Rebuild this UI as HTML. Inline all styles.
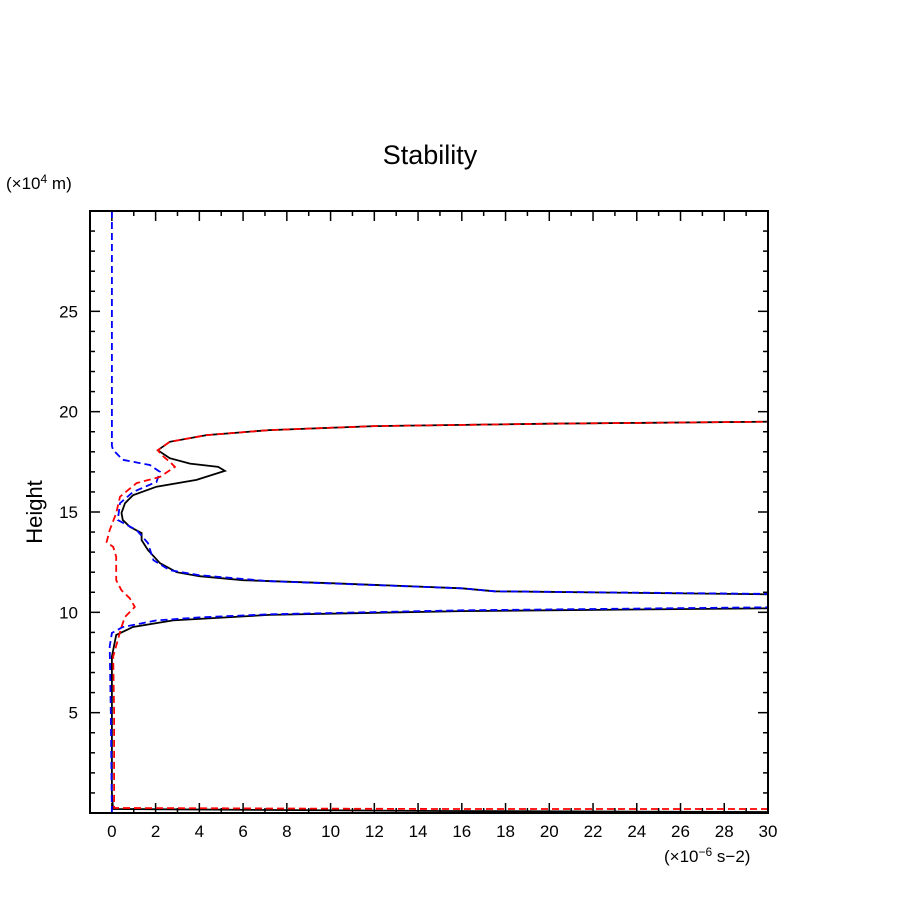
<!DOCTYPE html>
<html><head><meta charset="utf-8"><style>
body{margin:0;background:#fff;}
svg{display:block;font-family:"Liberation Sans",sans-serif;}
</style></head><body>
<svg id="chart" width="904" height="904">
<rect width="904" height="904" fill="#fff"/>
<text x="430" y="164" font-size="27" text-anchor="middle">Stability</text>
<text x="6" y="189" font-size="17">(×10<tspan dy="-6" font-size="12">4</tspan><tspan dy="6"> m)</tspan></text>
<text x="42" y="512" font-size="22" text-anchor="middle" transform="rotate(-90 42 512)">Height</text>
<text x="664" y="862" font-size="17">(×10<tspan dy="-6" font-size="12">−6</tspan><tspan dy="6"> s−2)</tspan></text>
<g id="ticks"></g>
<g id="series"></g>
<rect x="90" y="211" width="678" height="602" fill="none" stroke="#000" stroke-width="2"/>
</svg>
<script>
const xTicks=[0,2,4,6,8,10,12,14,16,18,20,22,24,26,28,30];
const yTicks=[5,10,15,20,25];
const blackX=[30,15,0.05,0,0,0.2,0.96,2.8,7.2,16,30];
const blackH=[0.05,0.1,0.2,1,7.8,8.87,9.27,9.6,9.87,10.06,10.2];
const blackUX=[30,17.5,16,10,6,4,2.96,2.2,1.65,1.36,1.36,0.82,0.5,0.44,0.6,0.97,2.04,3.87,5.17,4.86,3.57,2.65,2.1,2.65,4.33,7.2,12,20,30];
const blackUH=[10.9,11.05,11.2,11.45,11.6,11.8,12.0,12.45,13.1,13.6,13.95,14.26,14.6,14.95,15.44,15.84,16.26,16.6,17.05,17.25,17.41,17.68,18.08,18.5,18.83,19.08,19.28,19.4,19.5];
const blueX=[0,0,0.05,0.5,1.74,2.2,2.04,0.97,0.37,0.27,1.13,1.65,1.9,2.65,4,7.2,16,17.5,30];
const blueH=[30,18.3,18.1,17.6,17.34,17.0,16.5,16.0,15.44,14.6,14.1,13.45,12.6,12.1,11.85,11.55,11.2,11.05,10.92];
const blueLX=[0,-0.05,-0.1,0,0.5,2.04,4,7.2,16,30];
const blueLH=[0,5,8.3,8.97,9.27,9.6,9.75,9.9,10.1,10.25];
const redX=[30,15,0.1,0.1,0.06,0.44,0.6,1.05,0.82,0.44,0.2,0.2,0.06,-0.24,-0.1,0.2,0.37,1.13,2.2,2.88,2.65,2.27,2.1,2.65,4.33,7.2,12,20,30];
const redH=[0.2,0.2,0.25,5,7.8,9.28,9.77,10.27,10.7,11.1,11.6,12.77,13.26,13.5,14.1,14.94,15.76,16.44,16.75,17.25,17.5,17.84,18.08,18.5,18.83,19.08,19.28,19.4,19.5];
const NS="http://www.w3.org/2000/svg";
const X0=90,X1=768,Y0=813,Y1=211,XMIN=-1,XMAX=30,YMIN=0,YMAX=30;
function sx(v){return X0+(v-XMIN)/(XMAX-XMIN)*(X1-X0);}
function sy(v){return Y0-(v-YMIN)/(YMAX-YMIN)*(Y0-Y1);}
function mk(tag,attrs,parent){const e=document.createElementNS(NS,tag);for(const k in attrs)e.setAttribute(k,attrs[k]);parent.appendChild(e);return e;}
const tg=document.getElementById('ticks');
for(let v=-1;v<=30;v++){
  const major=xTicks.includes(v);const L=major?10:5;const x=sx(v);
  const t1=mk('line',{x1:x,x2:x,y1:Y0,y2:Y0-L,stroke:'#000','stroke-width':1.5},tg);
  
  
  const t2=mk('line',{x1:x,x2:x,y1:Y1,y2:Y1+L,stroke:'#000','stroke-width':1.5},tg);
  
  
  if(major){const tx=mk('text',{x:x,y:837,'font-size':17,'text-anchor':'middle'},tg);tx.textContent=v;
    
    }
}
for(let v=1;v<30;v++){
  const major=yTicks.includes(v);const L=major?10:5;const y=sy(v);
  const t1=mk('line',{x1:X0,x2:X0+L,y1:y,y2:y,stroke:'#000','stroke-width':1.5},tg);
  
  
  const t2=mk('line',{x1:X1,x2:X1-L,y1:y,y2:y,stroke:'#000','stroke-width':1.5},tg);
  
  
  if(major){const tx=mk('text',{x:78,y:y+6,'font-size':17,'text-anchor':'end'},tg);tx.textContent=v;
    
    }
}
const sg=document.getElementById('series');
function line(xs,hs,color,dash,name){
  const pts=xs.map((v,i)=>sx(v).toFixed(1)+','+sy(hs[i]).toFixed(1)).join(' ');
  const p=mk('polyline',{points:pts,fill:'none',stroke:color,'stroke-width':1.8,'stroke-dasharray':dash||'none'},sg);
  
  
}
line(blackX,blackH,'#000',null,'black-series-lower');
line(blackUX,blackUH,'#000',null,'black-series-upper');
line(blueX,blueH,'#0000ff','7,4','blue-series-upper');
line(blueLX,blueLH,'#0000ff','7,4','blue-series-lower');
line(redX,redH,'#ff0000','7,4','red-series');
</script>
</body></html>
